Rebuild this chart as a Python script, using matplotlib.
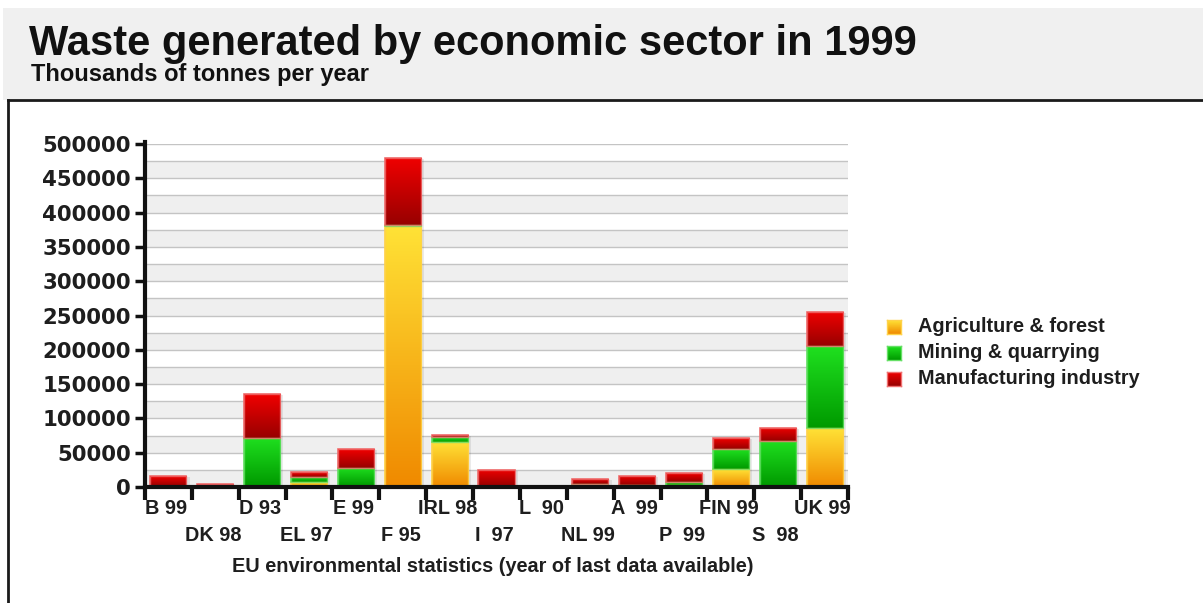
import matplotlib
matplotlib.use("Agg")
import matplotlib.pyplot as plt
import numpy as np
from matplotlib.colors import LinearSegmentedColormap
from matplotlib.patches import Rectangle
from matplotlib.lines import Line2D

# Waste by sector, thousands of tonnes per year
countries = ["B 99", "DK 98", "D 93", "EL 97", "E 99", "F 95", "IRL 98", "I  97",
             "L  90", "NL 99", "A  99", "P  99", "FIN 99", "S  98", "UK 99"]
agriculture = [1000, 500, 1000, 7000, 1000, 381000, 66000, 1000,
               300, 3000, 1500, 3000, 26000, 1000, 86000]
mining = [500, 500, 71000, 8000, 27000, 1000, 7000, 500,
          300, 1000, 1000, 5000, 29000, 66000, 119000]
manufacturing = [14500, 3000, 63000, 7000, 27000, 98000, 3000, 24000,
                 1000, 8000, 14000, 12000, 16000, 19000, 50000]
sectors = ["Agriculture & forest", "Mining & quarrying", "Manufacturing industry"]
y_ticks = list(range(0, 500001, 50000))

W, H = 1203, 603
fig = plt.figure(figsize=(W / 100, H / 100), dpi=100)
fig.patch.set_facecolor("white")

FONT = "Liberation Sans"
TXT = "#1e1e1e"

def fx(px):
    return px / W

def fy(py):
    return 1 - py / H

# header band and frame lines
fig.patches.append(Rectangle((fx(3), fy(100)), fx(1200), fy(8) - fy(100),
                             transform=fig.transFigure, facecolor="#f0f0f0",
                             edgecolor="none", zorder=0))
fig.lines.append(Line2D([fx(8), fx(1203)], [fy(100), fy(100)], transform=fig.transFigure,
                        color="#1a1a1a", lw=2))
fig.lines.append(Line2D([fx(8), fx(8)], [fy(100), fy(603)], transform=fig.transFigure,
                        color="#1a1a1a", lw=2))

fig.text(fx(29), fy(55), "Waste generated by economic sector in 1999", fontsize=30,
         fontweight="bold", family=FONT, ha="left", va="baseline", color="#111111")
fig.text(fx(31), fy(81), "Thousands of tonnes per year", fontsize=17,
         fontweight="bold", family=FONT, ha="left", va="baseline", color="#111111")

ax = fig.add_axes([fx(145), fy(487), fx(848) - fx(145), fy(144) - fy(487)])
ax.set_facecolor("white")

n = len(countries)
x = np.arange(n)

# alternating grid bands
for i, y0 in enumerate(range(0, 500000, 25000)):
    if i % 2 == 0:
        ax.axhspan(y0, y0 + 25000, facecolor="#efefef", edgecolor="none", zorder=0)
for y0 in range(25000, 500001, 25000):
    ax.axhline(y0, color="#c4c4c4", lw=1, zorder=0.5)

grads = [
    ("#ffe236", "#f08a00", "#ffd24a"),   # agriculture: yellow -> orange
    ("#1fe01f", "#009a00", "#66e066"),   # mining: bright -> dark green
    ("#f00000", "#980000", "#f07070"),   # manufacturing: red -> dark red
]
mids = ["#f8b418", "#10c010", "#cc0000"]

series = [agriculture, mining, manufacturing]
bottom = np.zeros(n)
bw = 0.77
for vals, (ctop, cbot, cedge), mid in zip(series, grads, mids):
    vals = np.asarray(vals, dtype=float)
    # soft drop shadow
    ax.bar(x + 0.07, vals, bw, bottom=bottom - 1500, color="#000000", alpha=0.08,
           zorder=1.5, linewidth=0)
    bars = ax.bar(x, vals, bw, bottom=bottom, color=mid, edgecolor=cedge,
                  linewidth=1.2, zorder=2)
    cmap = LinearSegmentedColormap.from_list("g", [cbot, ctop])
    for rect, b, v in zip(bars, bottom, vals):
        x0 = rect.get_x()
        grad = np.linspace(0, 1, 64).reshape(-1, 1)
        im = ax.imshow(grad, extent=[x0, x0 + bw, b, b + v], origin="lower",
                       aspect="auto", cmap=cmap, zorder=2.1, interpolation="bicubic")
        im.set_clip_path(rect)
        ax.add_patch(Rectangle((x0, b), bw, v, facecolor="none", edgecolor=cedge,
                               linewidth=1.0, zorder=2.2, alpha=0.8))
    bottom += vals

ax.set_xlim(-0.5, n - 0.5)
ax.set_ylim(0, 500000)

for s in ["top", "right"]:
    ax.spines[s].set_visible(False)
for s in ["left", "bottom"]:
    ax.spines[s].set_linewidth(3)
    ax.spines[s].set_color("#111111")
ax.spines["left"].set_bounds(0, 503000)

ax.set_yticks(y_ticks)
ax.set_yticklabels([str(v) for v in y_ticks], fontsize=15.3, fontweight="bold",
                   family="DejaVu Sans", color=TXT)
ax.tick_params(axis="y", length=7, width=2.5, color="#111111", pad=3)

ax.set_xticks(np.arange(n + 1) - 0.5)
ax.set_xticklabels([])
ax.tick_params(axis="x", length=9, width=3, color="#111111")

for i, name in enumerate(countries):
    yoff = -0.062 if i % 2 == 0 else -0.141
    ax.text(i - 0.05, yoff, name, transform=ax.get_xaxis_transform(), ha="center",
            va="center", fontsize=14.3, fontweight="bold", family=FONT, color=TXT)

fig.text(fx(493), fy(566), "EU environmental statistics (year of last data available)",
         ha="center", va="center", fontsize=14.3, fontweight="bold", family=FONT,
         color=TXT)

# legend
leg_y = [327, 353, 379]
for label, yy, (ctop, cbot, cedge), mid in zip(sectors, leg_y, grads, mids):
    lax = fig.add_axes([fx(887), fy(yy + 7), fx(14), fy(yy - 7) - fy(yy + 7)])
    cmap = LinearSegmentedColormap.from_list("g", [cbot, ctop])
    lax.imshow(np.linspace(0, 1, 32).reshape(-1, 1), origin="lower", aspect="auto",
               cmap=cmap, extent=[0, 1, 0, 1])
    lax.set_xticks([]); lax.set_yticks([])
    for s in lax.spines.values():
        s.set_color(cedge)
        s.set_linewidth(1)
    fig.text(fx(918), fy(yy), label, ha="left", va="center", fontsize=14.3,
             fontweight="bold", family=FONT, color=TXT)

fig.savefig("out.png", dpi=100, facecolor="white")
